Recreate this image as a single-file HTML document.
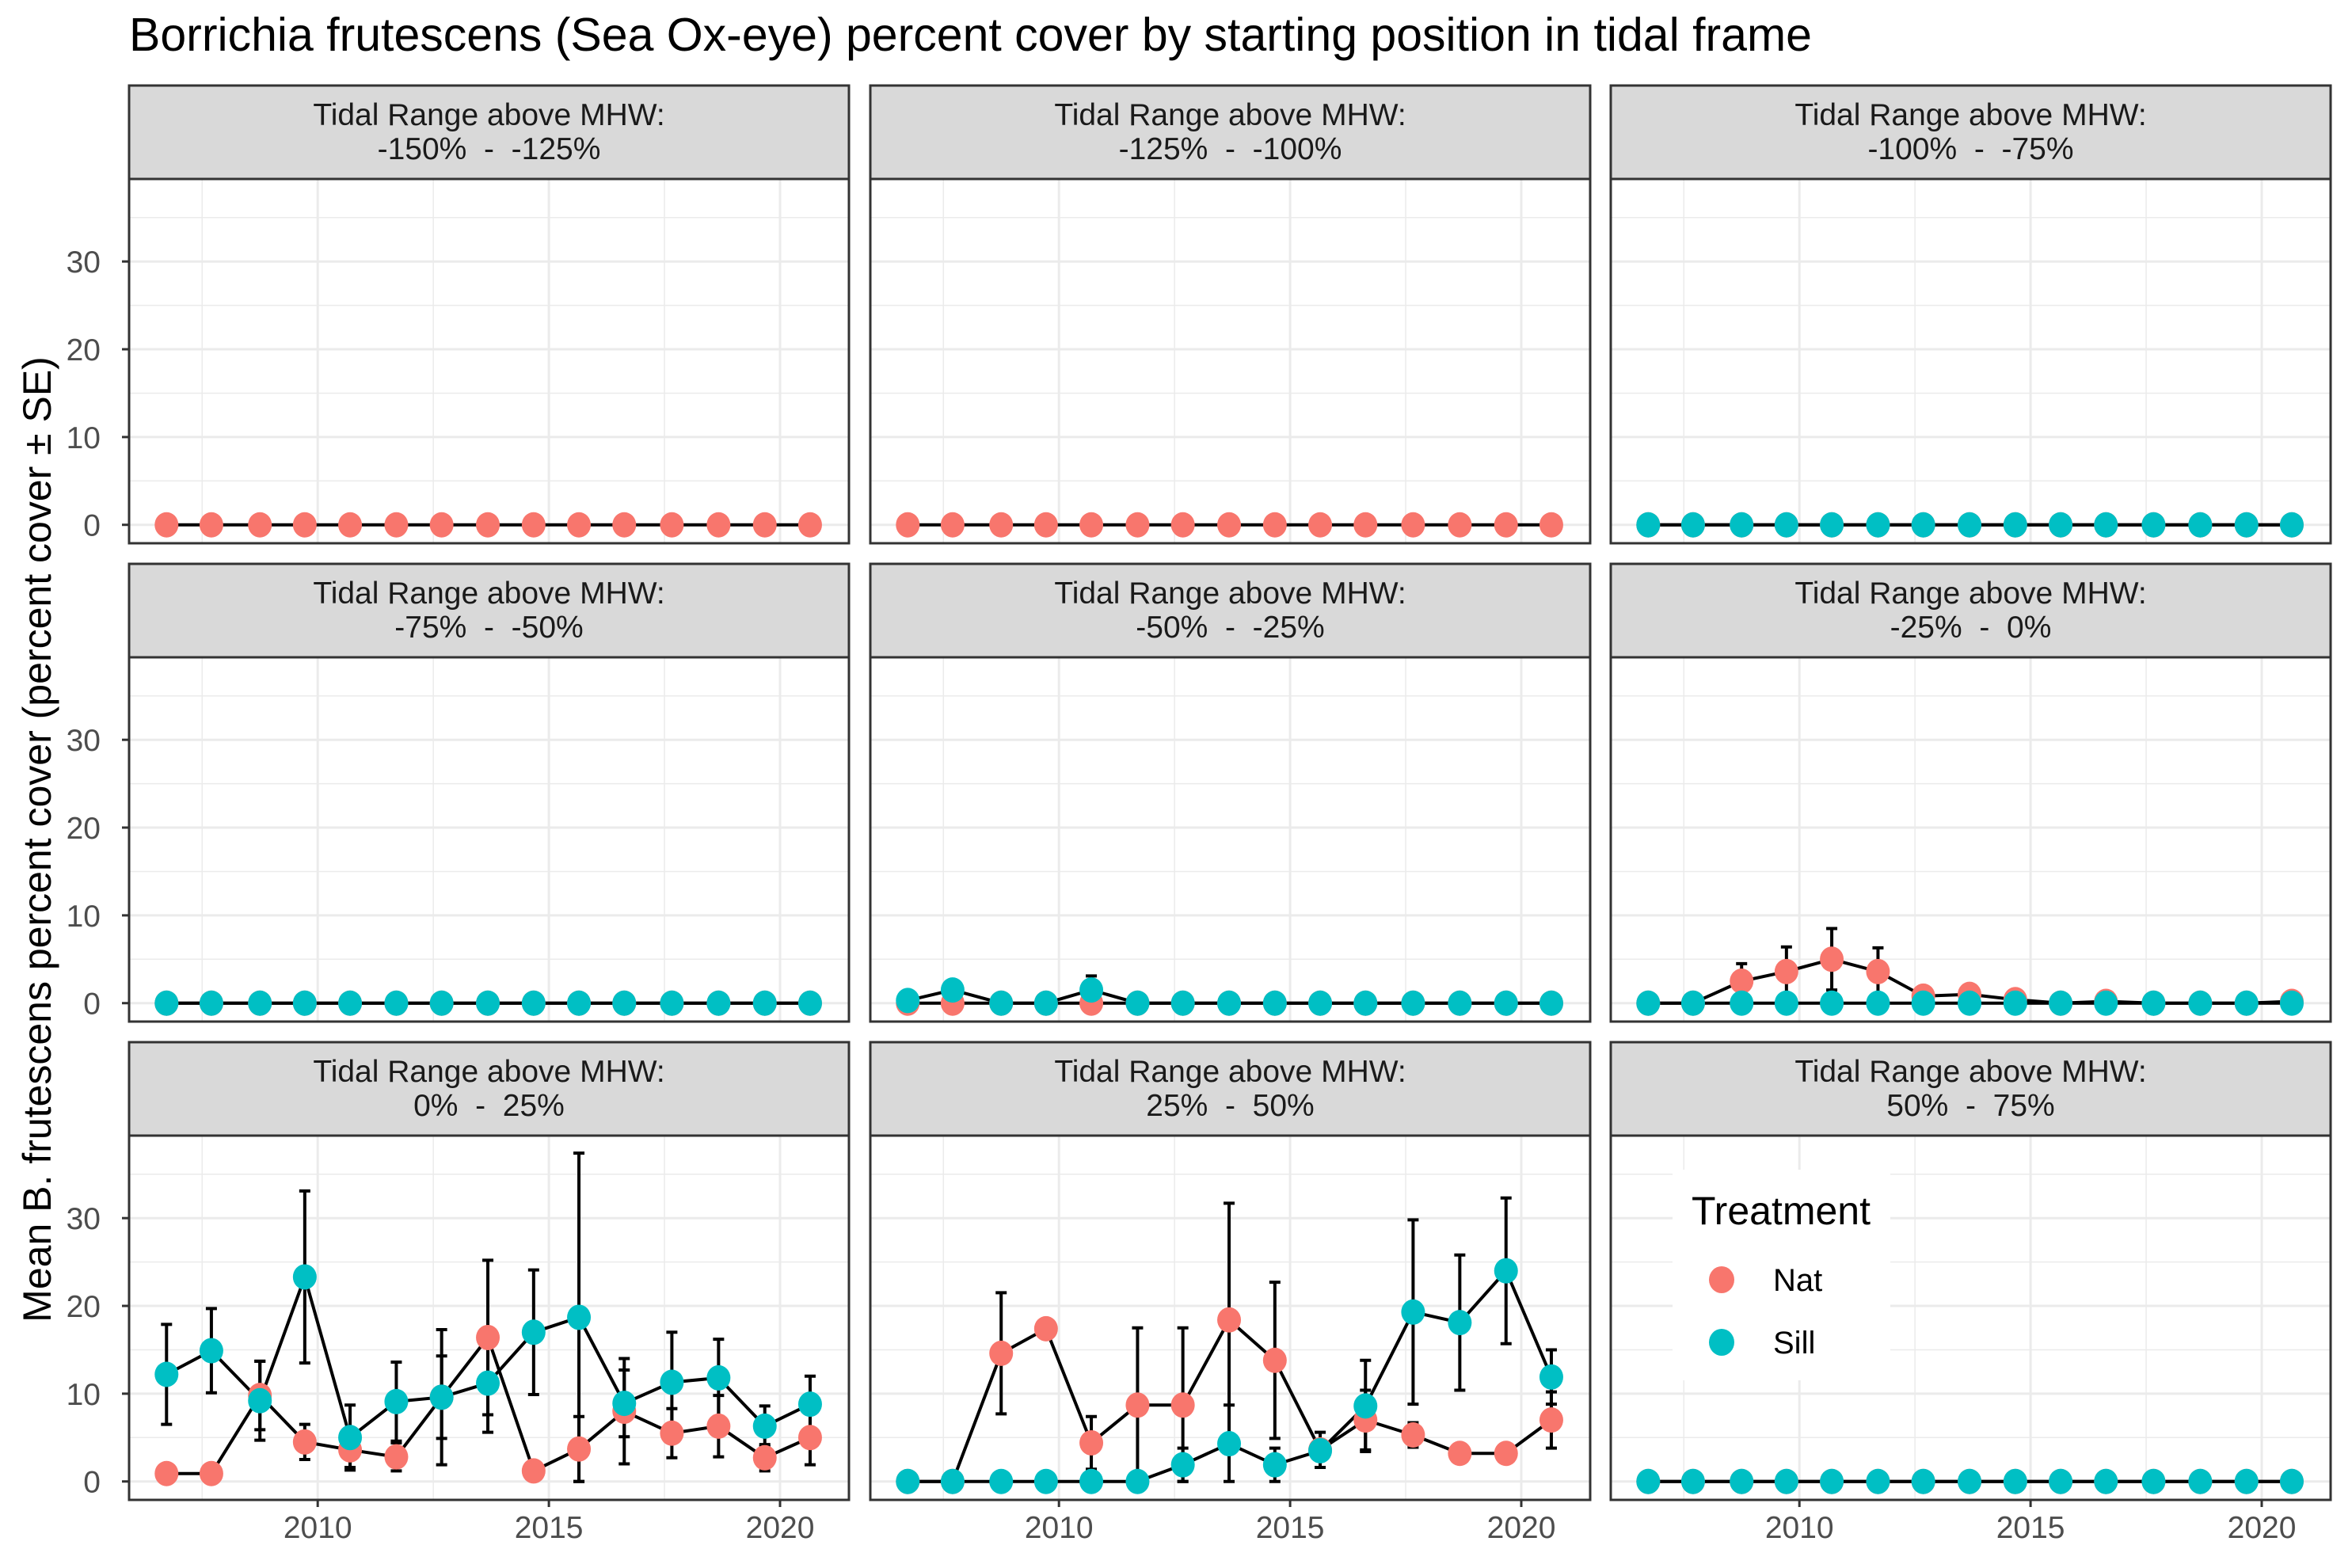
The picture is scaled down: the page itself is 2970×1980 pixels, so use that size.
<!DOCTYPE html>
<html><head><meta charset="utf-8"><style>
html,body{margin:0;padding:0;background:#fff}
svg{display:block;font-family:"Liberation Sans",Arial,sans-serif}
text{white-space:pre}
</style></head><body>
<svg id="chart" width="2970" height="1980" viewBox="0 0 2970 1980" xmlns="http://www.w3.org/2000/svg" xml:space="preserve">
<text x="163" y="64" font-size="59" fill="#000">Borrichia frutescens (Sea Ox-eye) percent cover by starting position in tidal frame</text>
<text transform="translate(64,1060) rotate(-90)" text-anchor="middle" font-size="50" fill="#000">Mean B. frutescens percent cover (percent cover ± SE)</text>
</svg>
<script>
const years = [2006.73,2007.7,2008.75,2009.72,2010.7,2011.7,2012.68,2013.68,2014.67,2015.65,2016.63,2017.66,2018.67,2019.67,2020.65];
const panelLabels = ["-150%  -  -125%","-125%  -  -100%","-100%  -  -75%","-75%  -  -50%","-50%  -  -25%","-25%  -  0%","0%  -  25%","25%  -  50%","50%  -  75%"];
const yTicks = [0,10,20,30];
const xTicks = [2010,2015,2020];
const Z = [0,0,0,0,0,0,0,0,0,0,0,0,0,0,0];
const natP1 = Z, natP2 = Z, natP3 = Z, natP4 = Z;
const natP5 = [0,0,0,0,0,0,0,0,0,0,0,0,0,0,0];
const natP6 = [0,0,2.5,3.6,5.0,3.6,0.8,1.0,0.4,0,0.2,0,0,0,0.2];
const natSeP6 = [0,0,2.0,2.8,3.5,2.7,0.3,0.3,0.2,0,0.1,0,0,0,0.1];
const natP7 = [0.9,0.9,9.8,4.5,3.6,2.8,9.6,16.4,1.2,3.7,8.0,5.5,6.3,2.7,5.0];
const natSeP7 = [0,0,3.9,2.0,2.0,1.6,7.7,8.8,0,3.7,6.0,2.8,3.5,1.5,3.1];
const natP8 = [0,0,14.6,17.4,4.4,8.7,8.7,18.4,13.8,3.6,7.0,5.3,3.2,3.2,7.0];
const natSeP8 = [0,0,6.9,0,3.0,8.8,8.8,13.3,8.9,2.0,3.4,1.4,0,0,3.2];
const natP9 = Z;
const sillP3 = Z, sillP4 = Z, sillP9 = Z, sillP6 = Z;
const sillP5 = [0.3,1.5,0,0,1.5,0,0,0,0,0,0,0,0,0,0];
const sillSeP5 = [0.3,0.6,0,0,1.6,0,0,0,0,0,0,0,0,0,0];
const sillP7 = [12.2,14.9,9.2,23.3,5.0,9.1,9.6,11.2,17.0,18.7,8.9,11.3,11.8,6.3,8.8];
const sillSeP7 = [5.7,4.8,4.5,9.8,3.7,4.5,4.7,5.6,7.1,18.7,3.8,5.7,4.4,2.3,3.2];
const sillP8 = [0,0,0,0,0,0,1.9,4.3,1.9,3.5,8.6,19.3,18.1,24.0,11.9];
const sillSeP8 = [0,0,0,0,0,0,1.9,4.4,1.9,0,5.2,10.5,7.7,8.3,3.1];

const NS="http://www.w3.org/2000/svg";
const svg=document.getElementById('chart');
function mk(tag,attrs,parent){const e=document.createElementNS(NS,tag);for(const k in attrs)e.setAttribute(k,attrs[k]);(parent||svg).appendChild(e);return e;}
const colL=[163,1099,2034], PW=909, rowT=[108,712,1316], SH=118, PH=460;
const X0=2005.92,X1=2021.49,Y0=-2.1,Y1=39.4;
const RED="#F8766D", TEAL="#00BFC4";
const panels=[
 {nat:natP1,natSe:null,sill:null},{nat:natP2,natSe:null,sill:null},{nat:natP3,sill:sillP3},
 {nat:natP4,sill:sillP4},{nat:natP5,sill:sillP5,sillSe:sillSeP5},{nat:natP6,natSe:natSeP6,sill:sillP6},
 {nat:natP7,natSe:natSeP7,sill:sillP7,sillSe:sillSeP7},{nat:natP8,natSe:natSeP8,sill:sillP8,sillSe:sillSeP8},{nat:natP9,sill:sillP9}];
panels.forEach((p,i)=>{
  const c=i%3,r=Math.floor(i/3);
  const L=colL[c], T=rowT[r]+SH;
  const sx=v=>L+(v-X0)/(X1-X0)*PW;
  const sy=v=>T+PH-(v-Y0)/(Y1-Y0)*PH;
  const g=mk('g',{});
  
  
  const strip=mk('rect',{x:L,y:rowT[r],width:PW,height:SH,fill:'#d9d9d9',stroke:'#333',"stroke-width":3},g);
  
  
  const st=mk('text',{x:L+PW/2,y:rowT[r]+50,"text-anchor":"middle","font-size":39,fill:"#1a1a1a"},g);
  
  
  mk('tspan',{x:L+PW/2,dy:0},st).textContent='Tidal Range above MHW:';
  mk('tspan',{x:L+PW/2,dy:43},st).textContent=panelLabels[i];
  mk('rect',{x:L,y:T,width:PW,height:PH,fill:'#fff'},g);
  [5,15,25,35].forEach(v=>mk('line',{x1:L,x2:L+PW,y1:sy(v),y2:sy(v),stroke:'#ebebeb',"stroke-width":1.5},g));
  [2007.5,2012.5,2017.5].forEach(v=>mk('line',{x1:sx(v),x2:sx(v),y1:T,y2:T+PH,stroke:'#ebebeb',"stroke-width":1.5},g));
  yTicks.forEach(v=>mk('line',{x1:L,x2:L+PW,y1:sy(v),y2:sy(v),stroke:'#ebebeb',"stroke-width":3},g));
  xTicks.forEach(v=>mk('line',{x1:sx(v),x2:sx(v),y1:T,y2:T+PH,stroke:'#ebebeb',"stroke-width":3},g));
  function series(vals,se,col,name){
    if(!vals)return;
    if(se) vals.forEach((v,k)=>{if(se[k]>0){const x=sx(years[k]),a=sy(v+se[k]),b=sy(Math.max(0,v-se[k]));
      const eb=mk('path',{d:`M${x-7},${a}H${x+7}M${x},${a}V${b}M${x-7},${b}H${x+7}`,stroke:'#000',"stroke-width":4,fill:'none'},g);
      
      }});
    const ln=mk('polyline',{points:vals.map((v,k)=>sx(years[k])+','+sy(v)).join(' '),fill:'none',stroke:'#000',"stroke-width":4},g);
    
    
  }
  function pts(vals,col,name){
    if(!vals)return;
    vals.forEach((v,k)=>{const pt=mk('ellipse',{cx:sx(years[k]),cy:sy(v),rx:15,ry:16,fill:col},g);
      
      });
  }
  series(p.nat,p.natSe,RED,'nat');series(p.sill,p.sillSe,TEAL,'sill');
  pts(p.nat,RED,'nat');pts(p.sill,TEAL,'sill');
  mk('rect',{x:L,y:T,width:PW,height:PH,fill:'none',stroke:'#333',"stroke-width":3},g);
  if(c===0) yTicks.forEach(v=>{mk('line',{x1:L-9,x2:L,y1:sy(v),y2:sy(v),stroke:'#333',"stroke-width":3},g);
    const t=mk('text',{x:L-36,y:sy(v)+14,"text-anchor":"end","font-size":39,fill:"#4d4d4d"},g);t.textContent=v;
    
    });
  if(r===2) xTicks.forEach(v=>{mk('line',{x1:sx(v),x2:sx(v),y1:T+PH,y2:T+PH+9,stroke:'#333',"stroke-width":3},g);
    const t=mk('text',{x:sx(v),y:T+PH+48,"text-anchor":"middle","font-size":39,fill:"#4d4d4d"},g);t.textContent=v;
    
    });
});
const lg=mk('g',{});


mk('rect',{x:2112,y:1477,width:275,height:266,fill:'#fff'},lg);
const lt=mk('text',{x:2136,y:1546,"font-size":50,fill:'#000'},lg);lt.textContent='Treatment';
[['Nat',RED,1616],['Sill',TEAL,1695]].forEach(([n,col,y])=>{
  const d=mk('ellipse',{cx:2174,cy:y,rx:16,ry:17,fill:col},lg);
  
  
  const t=mk('text',{x:2239,y:y+14,"font-size":40,fill:'#000'},lg);t.textContent=n;
  
  
});
</script>
</body></html>
